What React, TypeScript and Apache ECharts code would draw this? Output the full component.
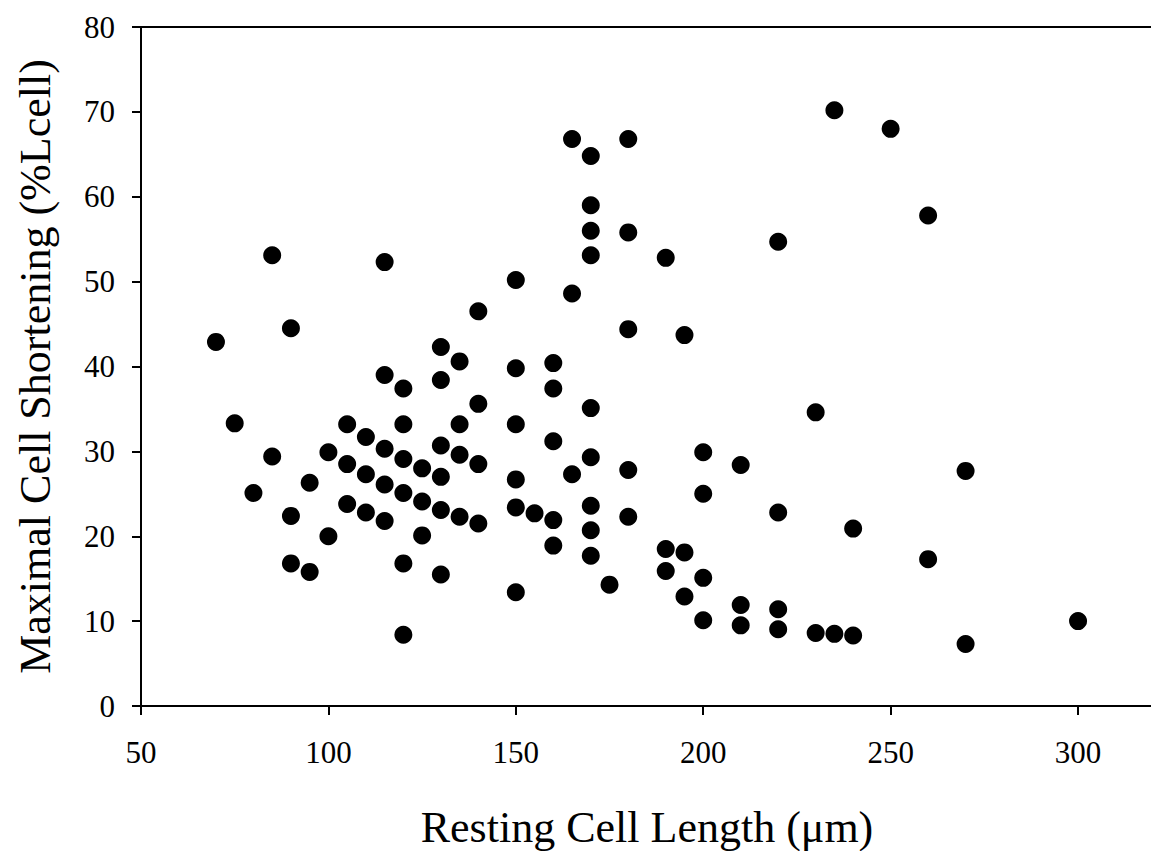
import React, { useEffect, useRef } from "react";
import * as echarts from "echarts";

const restingLength: number[] = [
  70, 75, 80, 85, 85, 90, 90, 90, 95, 95,
  100, 100, 105, 105, 105, 110, 110, 110, 115, 115,
  115, 115, 115, 120, 120, 120, 120, 120, 120, 125,
  125, 125, 130, 130, 130, 130, 130, 130, 135, 135,
  135, 135, 140, 140, 140, 140, 150, 150, 150, 150,
  150, 150, 155, 160, 160, 160, 160, 160, 165, 165,
  165, 170, 170, 170, 170, 170, 170, 170, 170, 170,
  175, 180, 180, 180, 180, 180, 190, 190, 190, 195,
  195, 195, 200, 200, 200, 200, 210, 210, 210, 220,
  220, 220, 220, 230, 230, 235, 235, 240, 240, 250,
  260, 260, 270, 270, 300,
];

const maxShortening: number[] = [
  42.9, 33.3, 25.1, 53.1, 29.4, 44.5, 22.4, 16.8, 26.3, 15.8,
  29.9, 20.0, 33.2, 28.5, 23.8, 31.7, 27.3, 22.8, 52.3, 39.0,
  30.3, 26.1, 21.8, 37.4, 33.2, 29.1, 25.1, 16.8, 8.4, 28.0,
  24.1, 20.1, 42.3, 38.4, 30.7, 27.0, 23.1, 15.5, 40.6, 33.2,
  29.6, 22.3, 46.5, 35.6, 28.5, 21.5, 50.2, 39.8, 33.2, 26.7,
  23.4, 13.4, 22.7, 40.4, 37.4, 31.2, 21.9, 18.9, 66.8, 48.6,
  27.3, 64.8, 59.0, 56.0, 53.1, 35.1, 29.3, 23.6, 20.7, 17.7,
  14.3, 66.8, 55.8, 44.4, 27.8, 22.3, 52.8, 18.5, 15.9, 43.7,
  18.1, 12.9, 29.9, 25.0, 15.1, 10.1, 28.4, 11.9, 9.5, 54.7,
  22.8, 11.4, 9.05, 34.6, 8.6, 70.2, 8.5, 20.9, 8.3, 68.0,
  57.8, 17.3, 27.7, 7.3, 10.0,
];

const xTicks = { min: 50, max: 320, interval: 50 };
const xTickValues: number[] = [50, 100, 150, 200, 250, 300];
const yTicks = { min: 0, max: 80, interval: 10 };

const xTitle = "Resting Cell Length (\u03bcm)";
const yTitle = "Maximal Cell Shortening (%Lcell)";

const FONT = "'Liberation Serif', 'Times New Roman', serif";

export default function App() {
  const ref = useRef<HTMLDivElement>(null);

  useEffect(() => {
    if (!ref.current) return;
    const chart = echarts.init(ref.current, undefined, { renderer: "svg" });
    const points = restingLength.map((x, i) => [x, maxShortening[i]]);
    const axisLine = { show: true, lineStyle: { color: "#000", width: 2 } };
    chart.setOption({
      animation: false,
      backgroundColor: "#fff",
      grid: {
        left: 141,
        right: 17,
        top: 27,
        bottom: 145,
        containLabel: false,
        outerBoundsMode: "none",
      },
      xAxis: [
        {
          type: "value",
          min: xTicks.min,
          max: xTicks.max,
          interval: xTicks.interval,
          axisLine,
          axisTick: {
            show: true,
            length: 9,
            inside: false,
            customValues: xTickValues,
            lineStyle: { color: "#000", width: 2 },
          },
          axisLabel: {
            color: "#000",
            fontFamily: FONT,
            fontSize: 31,
            margin: 31,
            customValues: xTickValues,
          },
          splitLine: { show: false },
          name: xTitle,
          nameLocation: "middle",
          nameGap: 99,
          nameTextStyle: { color: "#000", fontFamily: FONT, fontSize: 44 },
        },
        {
          type: "value",
          position: "top",
          min: xTicks.min,
          max: xTicks.max,
          interval: xTicks.interval,
          axisLine,
          axisTick: { show: false },
          axisLabel: { show: false },
          splitLine: { show: false },
        },
      ],
      yAxis: {
        type: "value",
        min: yTicks.min,
        max: yTicks.max,
        interval: yTicks.interval,
        axisLine,
        axisTick: { show: true, length: 9, inside: false, lineStyle: { color: "#000", width: 2 } },
        axisLabel: { color: "#000", fontFamily: FONT, fontSize: 31, margin: 26 },
        splitLine: { show: false },
        name: yTitle,
        nameLocation: "middle",
        nameGap: 84,
        nameTextStyle: { color: "#000", fontFamily: FONT, fontSize: 44 },
      },
      series: [
        {
          type: "scatter",
          xAxisIndex: 0,
          data: points,
          symbol: "circle",
          symbolSize: 18,
          itemStyle: { color: "#000", opacity: 1 },
        },
      ],
    });
    return () => chart.dispose();
  }, []);

  return (
    <div
      style={{
        position: "absolute",
        left: 0,
        top: 0,
        width: 1151,
        height: 851,
        overflow: "hidden",
        background: "#fff",
      }}
    >
      <div ref={ref} style={{ width: 1170, height: 851 }} />
    </div>
  );
}
